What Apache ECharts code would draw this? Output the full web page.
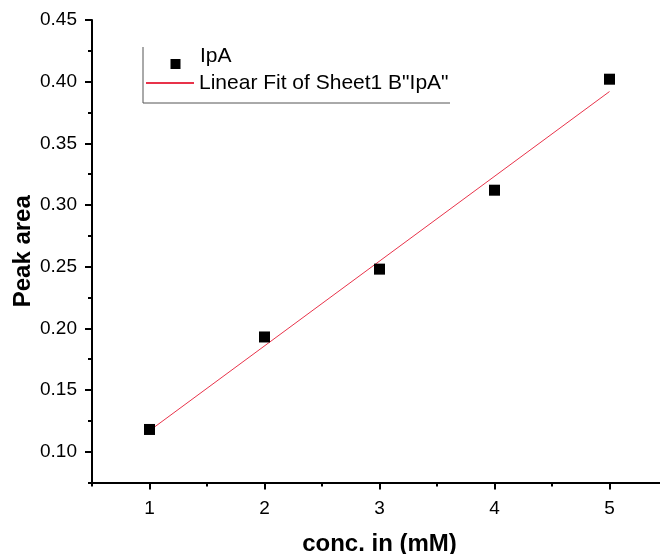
<!DOCTYPE html>
<html>
<head>
<meta charset="utf-8">
<script src="https://cdn.jsdelivr.net/npm/echarts@6/dist/echarts.min.js"></script>
<style>
  html, body { margin: 0; padding: 0; background: #fff; }
  #chart { width: 660px; height: 554px; }
</style>
</head>
<body>
<div id="chart"></div>
<script>
// measured points (conc. in mM -> peak area)
const conc = [1, 2, 3, 4, 5];
const peakArea = [0.118, 0.193, 0.248, 0.312, 0.402];
// ends of the linear fit line
const fitX = [1, 5];
const fitY = [0.117, 0.392];

const xTicks = [1, 2, 3, 4, 5];
const xMinorTicks = [0.5, 1.5, 2.5, 3.5, 4.5, 5.5];
const yTicks = [0.1, 0.15, 0.2, 0.25, 0.3, 0.35, 0.4, 0.45];
const yMinorTicks = [0.075, 0.125, 0.175, 0.225, 0.275, 0.325, 0.375, 0.425];

const font = "'Liberation Sans', Arial, sans-serif";
const chart = echarts.init(document.getElementById("chart"));

const axisLine = { show: true, lineStyle: { color: "#000", width: 2 } };

const option = {
  animation: false,
  grid: { left: 92, right: -7, top: 20, bottom: 71.5, outerBoundsMode: "none" },
  legend: [
    {
      data: ["IpA"],
      left: 170.5,
      top: 44,
      padding: 0,
      itemWidth: 24.5,
      itemHeight: 25,
      // square sits a bit below the text, like in Origin
      icon: "path://M0,0L24.5,0M0,15L10,15L10,25L0,25Z",
      textStyle: { fontFamily: font, fontSize: 21, color: "#000", lineHeight: 22 },
    },
    {
      data: ['Linear Fit of Sheet1 B"IpA"'],
      left: 145,
      top: 72,
      padding: 0,
      itemWidth: 48,
      itemHeight: 2,
      textStyle: { fontFamily: font, fontSize: 21, color: "#000", lineHeight: 22 },
    },
  ],
  graphic: [
    {
      type: "polyline",
      shape: { points: [[143, 47], [143, 103], [450, 103]] },
      style: { stroke: "#555", lineWidth: 1, fill: null },
      silent: true,
    },
  ],
  xAxis: [
    {
      type: "value",
      min: 0.5,
      max: 5.5,
      name: "conc. in (mM)",
      nameLocation: "middle",
      nameGap: 50,
      nameMoveOverlap: false,
      nameTextStyle: { fontFamily: font, fontSize: 24, fontWeight: "bold", color: "#000" },
      axisLine: axisLine,
      axisTick: { show: true, length: 7, customValues: xTicks, lineStyle: { color: "#000", width: 2 } },
      axisLabel: { customValues: xTicks, margin: 17, fontFamily: font, fontSize: 19, color: "#000" },
      splitLine: { show: false },
    },
    {
      type: "value",
      min: 0.5,
      max: 5.5,
      position: "bottom",
      axisLine: { show: false },
      axisTick: { show: true, length: 4, customValues: xMinorTicks, lineStyle: { color: "#000", width: 2 } },
      axisLabel: { show: false },
      splitLine: { show: false },
    },
  ],
  yAxis: [
    {
      type: "value",
      min: 0.075,
      max: 0.45,
      name: "Peak area",
      nameLocation: "middle",
      nameGap: 57,
      nameMoveOverlap: false,
      nameTextStyle: { fontFamily: font, fontSize: 24, fontWeight: "bold", color: "#000" },
      axisLine: axisLine,
      axisTick: { show: true, length: 7, customValues: yTicks, lineStyle: { color: "#000", width: 2 } },
      axisLabel: {
        customValues: yTicks,
        margin: 15,
        fontFamily: font,
        fontSize: 19,
        color: "#000",
        formatter: (v) => v.toFixed(2),
      },
      splitLine: { show: false },
    },
    {
      type: "value",
      min: 0.075,
      max: 0.45,
      position: "left",
      axisLine: { show: false },
      axisTick: { show: true, length: 4, customValues: yMinorTicks, lineStyle: { color: "#000", width: 2 } },
      axisLabel: { show: false },
      splitLine: { show: false },
    },
  ],
  series: [
    {
      name: 'Linear Fit of Sheet1 B"IpA"',
      type: "line",
      data: fitX.map((x, i) => [x, fitY[i]]),
      symbol: "none",
      lineStyle: { color: "#e8334a", width: 1 },
      itemStyle: { color: "#e8334a" },
      z: 2,
    },
    {
      name: "IpA",
      type: "scatter",
      data: conc.map((x, i) => [x, peakArea[i]]),
      symbol: "rect",
      symbolSize: 11,
      itemStyle: { color: "#000", opacity: 1 },
      z: 3,
    },
  ],
};
chart.setOption(option);
</script>
</body>
</html>
